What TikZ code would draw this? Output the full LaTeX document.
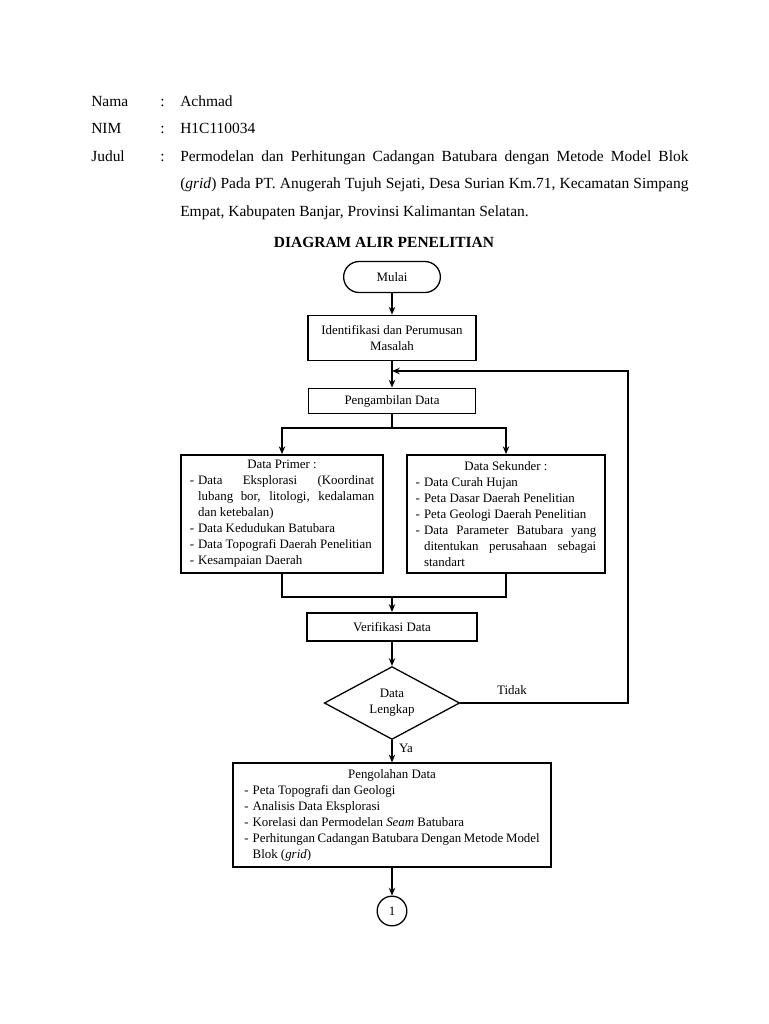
\documentclass[tikz,border=0pt]{standalone}
\usepackage{fontspec}
\setmainfont{Liberation Serif}
\usepackage{tikz}
\usetikzlibrary{shapes,arrows,arrows.meta,positioning,calc}
\tikzstyle{terminal} = [rectangle, rounded corners=12pt, minimum width=75pt, minimum height=24pt, text centered, draw=black, line width=1pt]
\tikzstyle{process} = [rectangle, minimum width=130pt, minimum height=35pt, text centered, draw=black, line width=1.4pt, align=center]
\tikzstyle{processthin} = [rectangle, minimum width=130pt, minimum height=20pt, text centered, draw=black, line width=0.9pt]
\tikzstyle{listbox} = [rectangle, minimum height=91.5pt, draw=black, line width=1.4pt, align=justify, inner sep=0pt]
\tikzstyle{decision} = [diamond, minimum width=105pt, minimum height=56.5pt, shape aspect=1.9, inner sep=0pt, text centered, draw=black, line width=1pt, align=center]
\tikzstyle{connector} = [circle, minimum size=23pt, inner sep=0pt, draw=black, line width=1pt]
\tikzstyle{header} = [anchor=base west, inner sep=0pt, font=\fontsize{12}{21.3}\selectfont]
\tikzstyle{line} = [line width=1pt]
\tikzstyle{arrow} = [line width=1pt,-{Stealth[length=6pt,width=5pt]}]
\newcommand{\nohyph}{\hyphenpenalty=10000\relax\exhyphenpenalty=10000\relax}
\newcommand{\butir}[1]{\par\noindent\hangindent=0.65em\hangafter=1\makebox[0.65em][l]{-}#1\par}

\begin{document}
\begin{tikzpicture}[x=0.7752pt, y=-0.7752pt, every node/.style={font=\fontsize{10}{12.4}\selectfont\nohyph}]
\useasboundingbox (0,0) rectangle (768,1024);

% Identitas
\node (lblnama) [header] at (91,106) {Nama};
\node (tknama) [header] at (160,106) {:};
\node (nama) [header] at (180,106) {Achmad};
\node (lblnim) [header] at (91,133) {NIM};
\node (tknim) [header] at (160,133) {:};
\node (nim) [header] at (180,133) {H1C110034};
\node (lbljudul) [header] at (91,161) {Judul};
\node (tkjudul) [header] at (160,161) {:};
\node (judul) [header, anchor=north west, text width=394pt, align=justify] at (180,150.5) {Permodelan dan Perhitungan Cadangan Batubara dengan Metode Model Blok (\textit{grid}) Pada PT. Anugerah Tujuh Sejati, Desa Surian Km.71, Kecamatan Simpang Empat, Kabupaten Banjar, Provinsi Kalimantan Selatan.};
\node (title) [inner sep=0pt, anchor=base, font=\fontsize{12}{14}\selectfont\bfseries] at (384,247) {DIAGRAM ALIR PENELITIAN};

% Alur
\node (mulai) [terminal] at (392,277) {Mulai};
\node (identif) [process] at (392,338) {Identifikasi dan Perumusan\\Masalah};
\node (ambil) [processthin] at (392,401) {Pengambilan Data};
\node (primer) [listbox, minimum width=157pt, text width=143pt] at (282,514) {\centerline{Data Primer :}
\butir{Data Eksplorasi (Koordinat lubang bor, litologi, kedalaman dan ketebalan)}
\butir{Data Kedudukan Batubara}
\butir{Data Topografi Daerah Penelitian}
\butir{Kesampaian Daerah}};
\node (sekunder) [listbox, minimum width=154pt, text width=140pt] at (506,514) {\centerline{Data Sekunder :}
\butir{Data Curah Hujan}
\butir{Peta Dasar Daerah Penelitian}
\butir{Peta Geologi Daerah Penelitian}
\butir{Data Parameter Batubara yang ditentukan perusahaan sebagai standart}};
\node (verif) [process, minimum width=132pt, minimum height=22pt] at (392,627) {Verifikasi Data};
\node (lengkap) [decision] at (392,703) {Data\\Lengkap};
\node (olah) [listbox, minimum width=246.5pt, minimum height=80.6pt, text width=229pt, line width=1pt] at (392,815) {\centerline{Pengolahan Data}
\butir{Peta Topografi dan Geologi}
\butir{Analisis Data Eksplorasi}
\butir{Korelasi dan Permodelan \textit{Seam} Batubara}
\butir{Perhitungan Cadangan Batubara Dengan Metode Model Blok (\textit{grid})}};
\node (satu) [connector] at (392,911) {1};

% Label
\node (lbltidak) at (512,690) {Tidak};
\node (lblya) at (406,748) {Ya};

% Titik bantu
\coordinate (masuk) at (392,371);
\coordinate (kanan) at (628,371);
\coordinate (cabang) at (392,428);
\coordinate (gabung) at (392,597);

% Panah
\draw [arrow] (mulai) -- (identif);
\draw [arrow] (identif) -- (ambil);
\draw [line] (ambil) -- (cabang);
\draw [arrow] (cabang) -| (primer);
\draw [arrow] (cabang) -| (sekunder);
\draw [line] (primer) |- (gabung);
\draw [line] (sekunder) |- (gabung);
\draw [arrow] (gabung) -- (verif);
\draw [arrow] (verif) -- (lengkap);
\draw [arrow] (lengkap.east) -| (kanan) -- (masuk);
\draw [arrow] (lengkap) -- (olah);
\draw [arrow] (olah) -- (satu);

\end{tikzpicture}
\end{document}
